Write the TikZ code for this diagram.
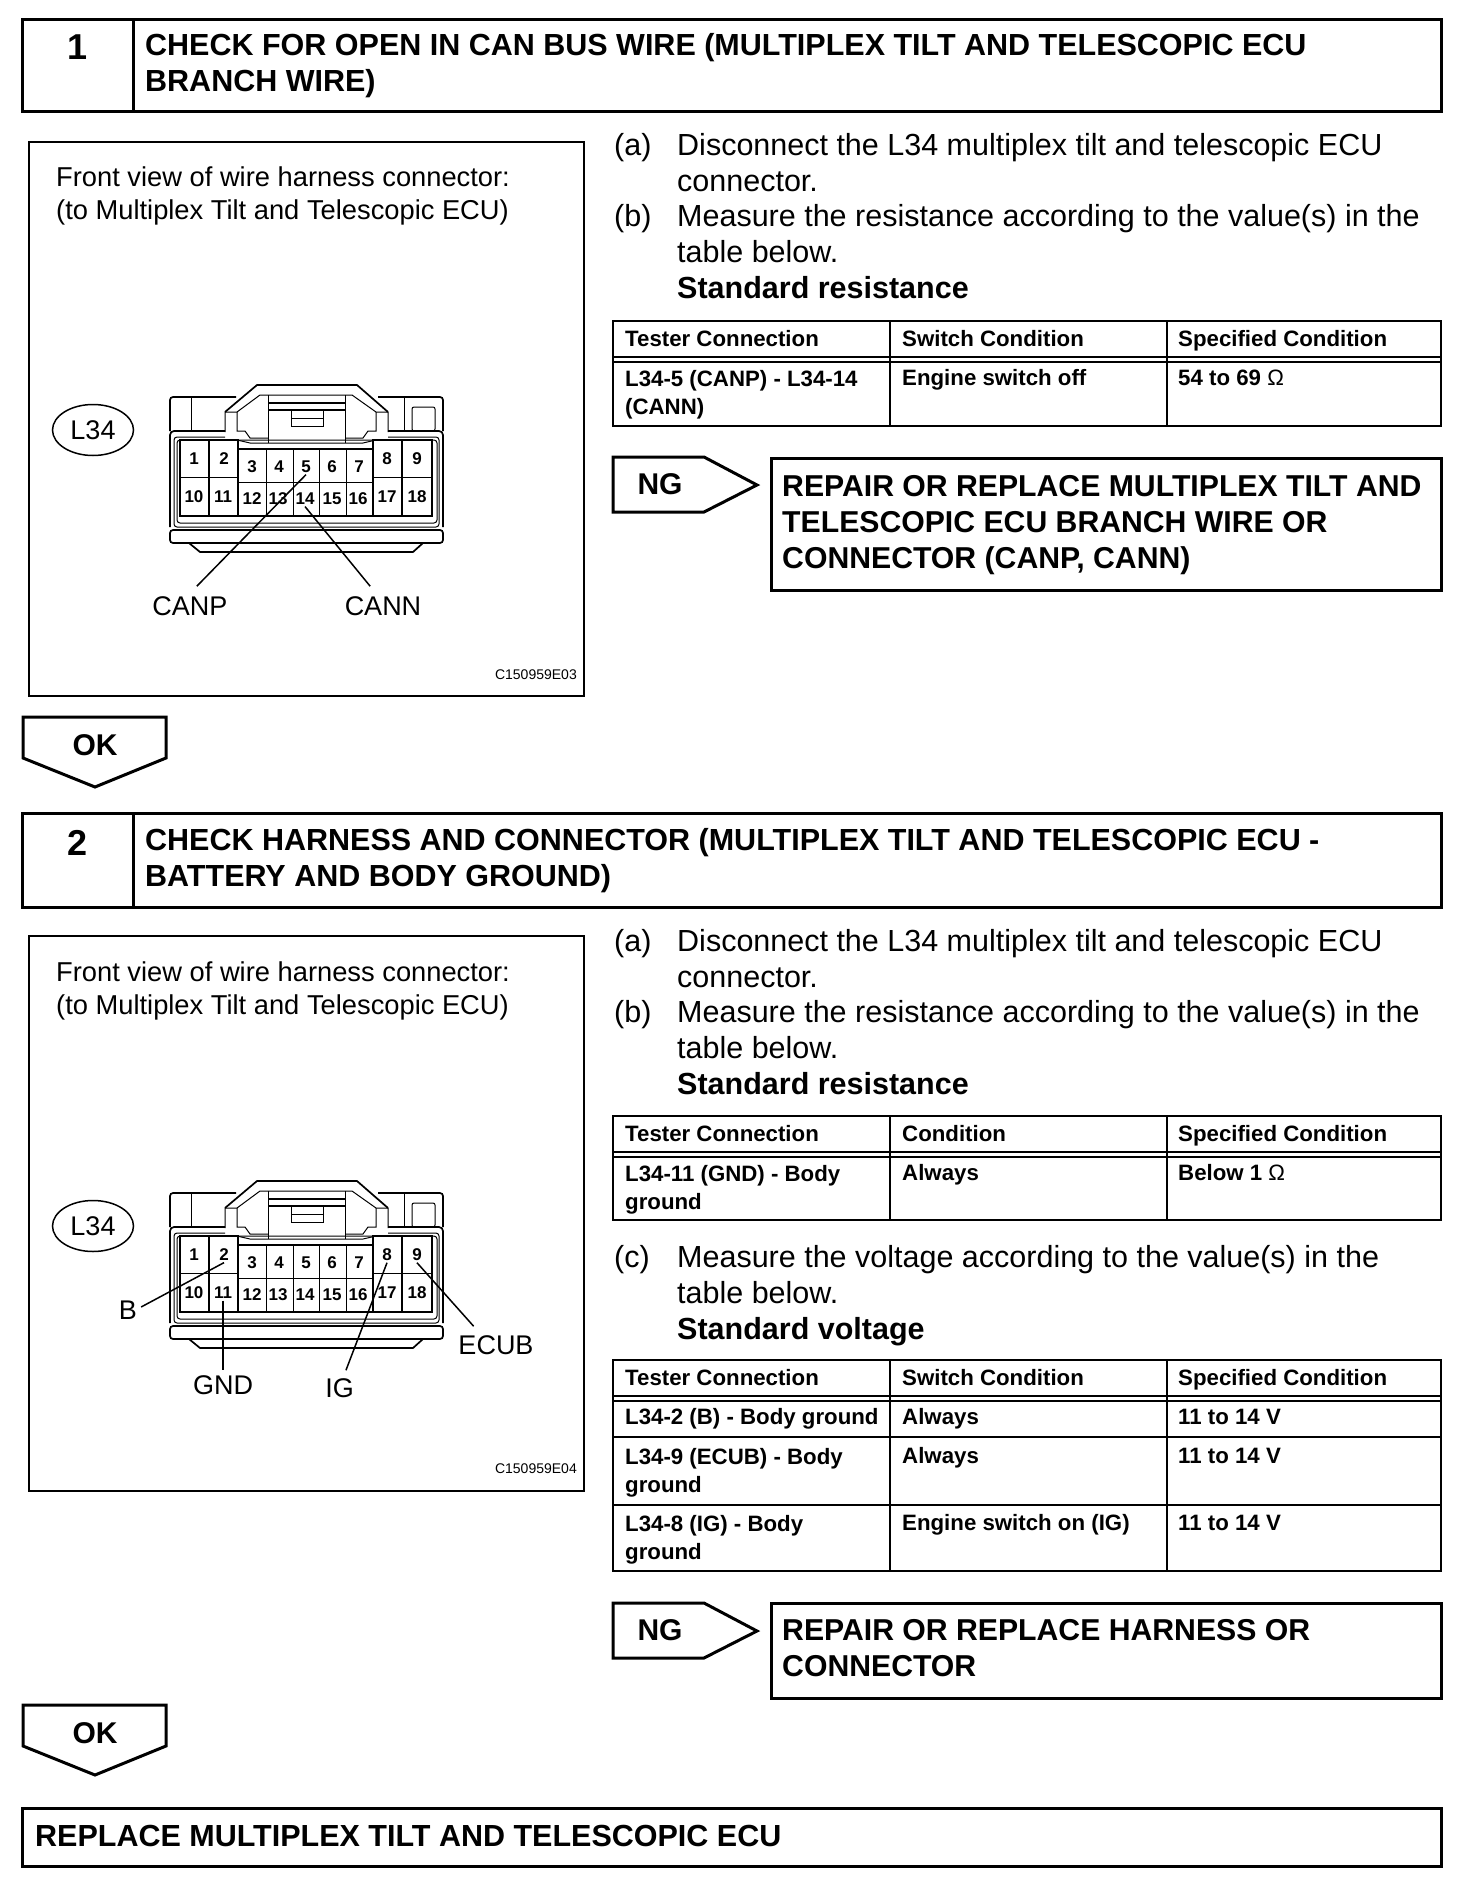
\documentclass[tikz,border=0pt]{standalone}
\usepackage{fontspec}
\setmainfont{Liberation Sans}
\usetikzlibrary{positioning, shapes.geometric}
\newcommand{\fsz}[2]{\fontsize{#1}{#2}\selectfont}
\tikzset{
  % connector drawn once, placed twice
  harness/.pic={
    \draw[conn,rounded corners=3pt] (170,431) -- (170,397) -- (236,397);
    \draw[conn,rounded corners=3pt] (443,431) -- (443,397) -- (378,397);
    \draw[conn] (225,412) -- (257,385) -- (357,385) -- (388,412);
    \draw[thin1] (225,412) -- (237,412) -- (260,395) -- (352,395) -- (376,412) -- (388,412);
    \draw[thin1] (225,412) -- (225,432) (237,412) -- (237,431) -- (245,431) -- (250,438) -- (268,438);
    \draw[thin1] (388,412) -- (388,432) (376,412) -- (376,431) -- (368,431) -- (363,438) -- (345,438);
    \draw[thin1] (237,440) -- (250,443) -- (345,443) -- (363,443) -- (376,440);
    \draw[thin1] (268,395) -- (268,443) (345,395) -- (345,443);
    \draw[conn] (268,403) -- (345,403) (268,410) -- (345,410);
    \draw[thin1] (291,410) rectangle (323,426) (291,418) -- (323,418);
    \draw[thin1] (191,398) -- (191,431) (404,398) -- (404,431);
    \draw[thin1,rounded corners=2pt] (412,407) rectangle (435,431);
    \draw[conn,rounded corners=4pt] (225,431) -- (170,431) -- (170,527);
    \draw[conn,rounded corners=4pt] (388,431) -- (443,431) -- (443,527);
    \draw[thin1,rounded corners=3pt] (225,437) -- (174,437) -- (174,527) -- (439,527) -- (439,437) -- (388,437);
    \draw[thin1,rounded corners=3pt] (177,523) rectangle (437,440);
    % pin cells
    \draw[conn] (180,440) -- (238,440) -- (238,449) -- (373,449) -- (373,440) -- (432,440) -- (432,516) -- (180,516) -- cycle;
    \draw[conn] (209,440) -- (209,516) (402,440) -- (402,516) (238,449) -- (238,516) (373,449) -- (373,516);
    \draw[thin1] (180,477) -- (238,477) (373,477) -- (432,477) (238,482) -- (373,482);
    \draw[thin1] (266,449) -- (266,516) (293,449) -- (293,516) (319,449) -- (319,516) (346,449) -- (346,516);
    \foreach \n/\x/\y in {1/194/459, 2/224/459, 3/252/467, 4/279/467, 5/306/467, 6/332/467, 7/359/467, 8/387/459, 9/417/459,
        10/194/497, 11/223/497, 12/252/499, 13/278/499, 14/305/499, 15/332/499, 16/358/499, 17/387/497, 18/417/497}
      \node[pinno] (pin\n) at (\x,\y) {\n};
    % flange
    \draw[conn,rounded corners=3pt] (170,530) rectangle (443,543);
    \draw[conn] (189,543) -- (200,552) -- (413,552) -- (423,543);
    \node[draw,line width=1.5pt,ellipse,minimum width=81pt,minimum height=51pt,inner sep=0pt,font=\fsz{27}{33}] (tag) at (93,430) {L34};
  }
}
\begin{document}
\begin{tikzpicture}[
    x=1pt, y=-1pt,
    heavy/.style={line width=3pt},
    frame/.style={line width=2pt},
    conn/.style={line width=1.7pt},
    thin1/.style={line width=1pt},
    lead/.style={line width=1.5pt},
    pinno/.style={font=\fsz{17}{20}\bfseries, inner sep=1.5pt},
    pinlabel/.style={font=\fsz{27}{33}},
    para/.style={anchor=north west, align=left, inner sep=0pt, font=\fsz{30.5}{36}, execute at begin node=\strut},
    head/.style={anchor=north west, align=left, inner sep=0pt, font=\fsz{30.5}{36}\bfseries, execute at begin node=\strut},
    capt/.style={anchor=north west, align=left, inner sep=0pt, font=\fsz{27.3}{33}, execute at begin node=\strut},
    cell/.style={anchor=north west, align=left, inner sep=0pt, font=\fsz{22.25}{28}\bfseries, execute at begin node=\strut},
    codeno/.style={anchor=east, inner sep=0pt, font=\fsz{14}{16}},
    big/.style={font=\fsz{36}{40}\bfseries, inner sep=0pt},
    tagtxt/.style={font=\fsz{30}{34}\bfseries, inner sep=0pt},
  ]
  \useasboundingbox (0,0) rectangle (1456,1900);

  % step 1
  \draw[heavy] (22,20) rectangle (1441,112);
  \draw[heavy] (133,20) -- (133,112);
  \node[big] (num1) at (78,47) {1};
  \node[head] (title1) at (145,33) {CHECK FOR OPEN IN CAN BUS WIRE (MULTIPLEX TILT AND TELESCOPIC ECU\\BRANCH WIRE)};

  \draw[frame] (29,142) rectangle (584,696);
  \node[capt] (cap1) at (56,167) {Front view of wire harness connector:\\(to Multiplex Tilt and Telescopic ECU)};
  \pic (hA) at (0,0) {harness};
  \node[pinlabel,inner sep=10pt] (canp) at (190,606) {CANP};
  \node[pinlabel,inner sep=10pt] (cann) at (383,606) {CANN};
  \draw[lead] (hApin5.south) -- (canp.71);
  \draw[lead] (hApin14.south) -- (cann.123);
  \node[codeno] (code1) at (577,675) {C150959E03};

  \node[para] (a1) at (614,130) {(a)};
  \node[para] (a1txt) at (677,133) {Disconnect the L34 multiplex tilt and telescopic ECU\\connector.};
  \node[para] (b1) at (614,201) {(b)};
  \node[para] (b1txt) at (677,204.5) {Measure the resistance according to the value(s) in the\\table below.\\\textbf{Standard resistance}};

  % resistance table
  \draw[frame] (613,321) rectangle (1441,426);
  \draw[frame] (613,357) -- (1441,357) (613,362) -- (1441,362);
  \draw[frame] (890,321) -- (890,426) (1167,321) -- (1167,426);
  \node[cell] (t1h1) at (625,327) {Tester Connection};
  \node[cell] (t1h2) at (902,327) {Switch Condition};
  \node[cell] (t1h3) at (1178,327) {Specified Condition};
  \node[cell] (t1c1) at (625,370) {L34-5 (CANP) - L34-14\\(CANN)};
  \node[cell] (t1c2) at (902,366) {Engine switch off};
  \node[cell] (t1c3) at (1178,366) {54 to 69 {\mdseries Ω}};

  \draw[heavy] (613,457) -- (704,457) -- (757,485) -- (704,512) -- (613,512) -- cycle;
  \node[tagtxt] (ng1) at (660,484) {NG};
  \draw[heavy] (771,458) rectangle (1441,590);
  \node[head,font=\fsz{30.2}{36}\bfseries] (fix1) at (782,475) {REPAIR OR REPLACE MULTIPLEX TILT AND\\TELESCOPIC ECU BRANCH WIRE OR\\CONNECTOR (CANP, CANN)};

  \draw[heavy] (23,717) -- (166,717) -- (166,758) -- (95,787) -- (23,758) -- cycle;
  \node[tagtxt] (ok1) at (95,745) {OK};

  % step 2
  \draw[heavy] (22,813) rectangle (1441,907);
  \draw[heavy] (133,813) -- (133,907);
  \node[big] (num2) at (78,843) {2};
  \node[head] (title2) at (145,828.5) {CHECK HARNESS AND CONNECTOR (MULTIPLEX TILT AND TELESCOPIC ECU -\\BATTERY AND BODY GROUND)};

  \draw[frame] (29,936) rectangle (584,1491);
  \node[capt] (cap2) at (56,962) {Front view of wire harness connector:\\(to Multiplex Tilt and Telescopic ECU)};
  \pic (hB) at (0,796) {harness};
  \node[pinlabel,inner sep=4pt] (pb) at (128,1310) {B};
  \node[pinlabel,inner sep=5pt] (pgnd) at (223,1385) {GND};
  \node[pinlabel,inner sep=8pt] (pig) at (339.5,1388) {IG};
  \node[pinlabel,inner sep=9pt] (pecub) at (496,1345) {ECUB};
  \draw[lead] (hBpin2.south) -- (pb.13);
  \draw[lead] (hBpin11.south) -- (hBpin11.south |- pgnd.north);
  \draw[lead] (hBpin8.south) -- (pig.70);
  \draw[lead] (hBpin9.south) -- (pecub.140);
  \node[codeno] (code2) at (577,1469) {C150959E04};

  \node[para] (a2) at (614,926) {(a)};
  \node[para] (a2txt) at (677,929) {Disconnect the L34 multiplex tilt and telescopic ECU\\connector.};
  \node[para] (b2) at (614,997) {(b)};
  \node[para] (b2txt) at (677,1000.5) {Measure the resistance according to the value(s) in the\\table below.\\\textbf{Standard resistance}};

  \draw[frame] (613,1116) rectangle (1441,1220);
  \draw[frame] (613,1152) -- (1441,1152) (613,1157) -- (1441,1157);
  \draw[frame] (890,1116) -- (890,1220) (1167,1116) -- (1167,1220);
  \node[cell] (t2h1) at (625,1122) {Tester Connection};
  \node[cell] (t2h2) at (902,1122) {Condition};
  \node[cell] (t2h3) at (1178,1122) {Specified Condition};
  \node[cell] (t2c1) at (625,1165) {L34-11 (GND) - Body\\ground};
  \node[cell] (t2c2) at (902,1161) {Always};
  \node[cell] (t2c3) at (1178,1161) {Below 1 {\mdseries Ω}};

  \node[para] (c2) at (614,1242) {(c)};
  \node[para] (c2txt) at (677,1245) {Measure the voltage according to the value(s) in the\\table below.\\\textbf{Standard voltage}};

  % voltage table
  \draw[frame] (613,1360) rectangle (1441,1571);
  \draw[frame] (613,1396) -- (1441,1396) (613,1401) -- (1441,1401);
  \draw[frame] (613,1437) -- (1441,1437) (613,1505) -- (1441,1505);
  \draw[frame] (890,1360) -- (890,1571) (1167,1360) -- (1167,1571);
  \node[cell] (t3h1) at (625,1366) {Tester Connection};
  \node[cell] (t3h2) at (902,1366) {Switch Condition};
  \node[cell] (t3h3) at (1178,1366) {Specified Condition};
  \node[cell] (t3a1) at (625,1405) {L34-2 (B) - Body ground};
  \node[cell] (t3a2) at (902,1405) {Always};
  \node[cell] (t3a3) at (1178,1405) {11 to 14 V};
  \node[cell] (t3b1) at (625,1448) {L34-9 (ECUB) - Body\\ground};
  \node[cell] (t3b2) at (902,1444) {Always};
  \node[cell] (t3b3) at (1178,1444) {11 to 14 V};
  \node[cell] (t3c1) at (625,1515) {L34-8 (IG) - Body\\ground};
  \node[cell] (t3c2) at (902,1511) {Engine switch on (IG)};
  \node[cell] (t3c3) at (1178,1511) {11 to 14 V};

  \draw[heavy] (613,1603) -- (704,1603) -- (757,1631) -- (704,1658) -- (613,1658) -- cycle;
  \node[tagtxt] (ng2) at (660,1630) {NG};
  \draw[heavy] (771,1603) rectangle (1441,1698);
  \node[head,font=\fsz{30.2}{36}\bfseries] (fix2) at (782,1619) {REPAIR OR REPLACE HARNESS OR\\CONNECTOR};

  \draw[heavy] (23,1705) -- (166,1705) -- (166,1746) -- (95,1775) -- (23,1746) -- cycle;
  \node[tagtxt] (ok2) at (95,1733) {OK};

  % last step
  \draw[heavy] (22,1808) rectangle (1441,1866);
  \node[head,anchor=west] (last) at (35,1839) {REPLACE MULTIPLEX TILT AND TELESCOPIC ECU};
\end{tikzpicture}
\end{document}
